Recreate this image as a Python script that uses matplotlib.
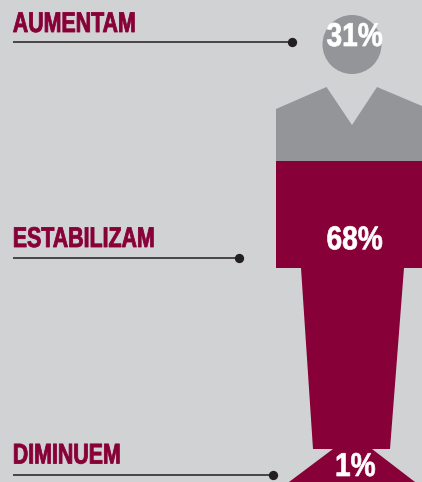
import matplotlib
matplotlib.use("Agg")
import matplotlib.pyplot as plt
from matplotlib.patches import Circle, Polygon
from matplotlib.patheffects import AbstractPathEffect
from matplotlib.transforms import Affine2D

# ====== data ======
categories = ["AUMENTAM", "ESTABILIZAM", "DIMINUEM"]
values = [31, 68, 1]

# ====== colours ======
bg = "#D1D2D4"
maroon = "#870037"
grey = "#939598"
dark = "#231F20"

plt.rcParams["font.family"] = ["Liberation Sans", "DejaVu Sans"]


# no condensed bold installed, so squeeze the glyphs sideways and fatten them a bit
class Squeeze(AbstractPathEffect):
    def __init__(self, sx, stroke, color):
        super().__init__()
        self.sx = sx
        self.stroke = stroke
        self.color = color

    def draw_path(self, renderer, gc, tpath, affine, rgbFace=None):
        gc0 = renderer.new_gc()
        gc0.copy_properties(gc)
        gc0.set_linewidth(self.stroke)
        gc0.set_foreground(self.color)
        renderer.draw_path(gc0, tpath, Affine2D().scale(self.sx, 1) + affine, rgbFace)
        gc0.restore()


fig = plt.figure(figsize=(4.22, 4.82), dpi=100, facecolor=bg)
ax = fig.add_axes([0, 0, 1, 1])
ax.set_xlim(0, 422)
ax.set_ylim(482, 0)
ax.axis("off")

# figure: head + shoulders in grey
ax.add_patch(Circle((352, 44.5), 29.5, fc=grey, ec="none"))
ax.add_patch(Polygon([(276, 109), (326.5, 87), (352, 125), (377, 87), (422, 106),
                      (422, 161), (276, 161)], fc=grey, ec="none"))
# torso, legs, foot in maroon
ax.add_patch(Polygon([(276, 161), (422, 161), (422, 268), (404, 268), (390, 449),
                      (372, 449), (415, 482), (289, 482), (333, 449), (313, 449),
                      (301, 268), (276, 268)], fc=maroon, ec="none"))

# labels with leader lines
label_y = [32, 247, 463.5]
line_y = [42, 258, 474.7]
line_end = [291.7, 238.5, 272.7]
value_pos = [(326.5, 46), (326.5, 249.3), (335, 476)]

for name, val, ly, ln, xe, vp in zip(categories, values, label_y, line_y, line_end, value_pos):
    ax.text(12.8, ly, name, color=maroon, fontsize=20.5, fontweight="bold", va="baseline", ha="left",
            path_effects=[Squeeze(0.75, 0.6, maroon)])
    ax.plot([13, xe], [ln, ln], color=dark, lw=1.1, solid_capstyle="butt")
    ax.plot([xe], [ln], "o", color=dark, ms=6.7, mew=0)
    ax.text(vp[0], vp[1], f"{val}%", color="white", fontsize=23.8, fontweight="bold",
            va="baseline", ha="left", path_effects=[Squeeze(0.85, 0.5, "white")])

fig.savefig("out.png", dpi=100, facecolor=bg)
